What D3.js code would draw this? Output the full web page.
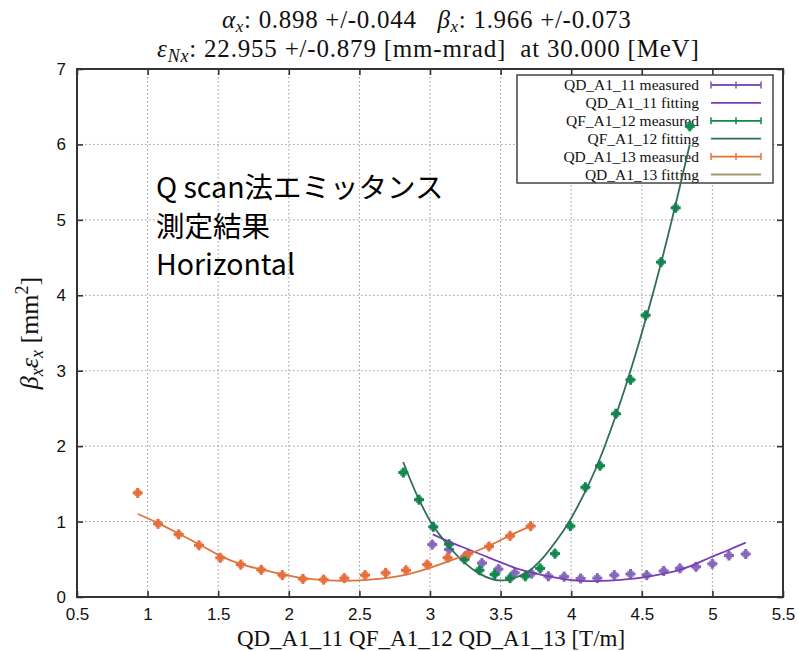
<!DOCTYPE html>
<html><head><meta charset="utf-8">
<script src="https://cdn.jsdelivr.net/npm/d3@7"></script>
<style>body{margin:0;background:#fff} svg{display:block}</style>
</head><body><svg id="c" width="798" height="651"></svg>
<script>
// ---------- data ----------
const xTicks = [0.5,1,1.5,2,2.5,3,3.5,4,4.5,5,5.5];
const xTickLabels = ["0.5","1","1.5","2","2.5","3","3.5","4","4.5","5","5.5"];
const yTicks = [0,1,2,3,4,5,6,7];
const yTickLabels = ["0","1","2","3","4","5","6","7"];

// QD_A1_11 (purple)
const qd11X = [3.016,3.135,3.25,3.368,3.484,3.60,3.72,3.838,3.95,4.067,4.185,4.305,4.42,4.535,4.655,4.77,4.884,5.0,5.117,5.236];
const qd11Y = [0.695,0.63,0.54,0.45,0.37,0.32,0.31,0.275,0.27,0.245,0.25,0.29,0.305,0.29,0.345,0.38,0.40,0.44,0.55,0.57];
const qd11FitX = [3.02,3.14,3.26,3.38,3.5,3.61,3.73,3.85,3.96,4.07,4.16,4.3,4.42,4.51,4.63,4.75,4.87,4.98,5.11,5.236];
const qd11FitY = [0.83,0.73,0.64,0.55,0.46,0.38,0.32,0.27,0.235,0.215,0.21,0.22,0.24,0.26,0.30,0.35,0.43,0.52,0.62,0.72];

// QF_A1_12 (green)
const qf12X = [2.811,2.922,3.023,3.135,3.245,3.35,3.458,3.567,3.675,3.78,3.885,3.994,4.10,4.204,4.317,4.42,4.527,4.636,4.74,4.84];
const qf12Y = [1.65,1.29,0.93,0.70,0.50,0.355,0.30,0.25,0.275,0.38,0.575,0.94,1.455,1.74,2.43,2.88,3.735,4.44,5.16,6.24];
const qf12FitX = [2.81,2.92,3.02,3.13,3.23,3.35,3.45,3.52,3.58,3.69,3.80,3.90,3.97,4.1,4.2,4.3,4.4,4.5,4.6,4.7,4.84];
const qf12FitY = [1.79,1.30,0.95,0.68,0.48,0.31,0.23,0.22,0.24,0.33,0.52,0.76,0.95,1.40,1.82,2.32,2.88,3.50,4.17,4.90,6.0];

// QD_A1_13 (orange)
const qd13X = [0.93,1.074,1.22,1.364,1.515,1.66,1.805,1.954,2.10,2.247,2.393,2.54,2.686,2.83,2.98,3.125,3.27,3.418,3.567,3.713];
const qd13Y = [1.38,0.97,0.83,0.686,0.52,0.43,0.36,0.29,0.24,0.23,0.25,0.29,0.32,0.354,0.43,0.52,0.575,0.67,0.81,0.94];
const qd13FitX = [0.93,1.074,1.22,1.364,1.515,1.66,1.805,1.954,2.10,2.247,2.40,2.50,2.64,2.79,2.90,3.02,3.14,3.26,3.43,3.57,3.713];
const qd13FitY = [1.10,0.98,0.84,0.70,0.545,0.435,0.365,0.30,0.25,0.225,0.215,0.22,0.24,0.28,0.33,0.40,0.48,0.56,0.69,0.82,0.94];

const legendLabels = ["QD_A1_11 measured","QD_A1_11 fitting","QF_A1_12 measured","QF_A1_12 fitting","QD_A1_13 measured","QD_A1_13 fitting"];
const legendColors = ["#7b55b5","#7b3fb3","#0e8a4e","#2f6e58","#e8703e","#a8996c"];
const annotationLines = ["Q scan法エミッタンス","測定結果","Horizontal"];

// ---------- drawing ----------
const svg = d3.select("#c");
const L=77, R=783, T=69, B=597;
const x = d3.scaleLinear().domain([0.5,5.5]).range([L,R]);
const y = d3.scaleLinear().domain([0,7]).range([B,T]);
const serif = "'Liberation Serif','Times New Roman',serif";
const sans = "'Liberation Sans',Arial,sans-serif";

// grid
const grid = svg.append("g").attr("stroke","#9a9a9a").attr("stroke-width",1).attr("stroke-dasharray","1.5,2.5");
grid.selectAll("line.v").data(xTicks.slice(1,-1)).join("line")
  .attr("x1",d=>x(d)).attr("x2",d=>x(d)).attr("y1",T).attr("y2",B);
grid.selectAll("line.h").data(yTicks.slice(1,-1)).join("line")
  .attr("y1",d=>y(d)).attr("y2",d=>y(d)).attr("x1",L).attr("x2",R);

// axes
function styleAxis(g){
  g.select(".domain").remove();
  g.selectAll(".tick line").attr("stroke","#333").attr("stroke-width",1.6);
  g.selectAll("text").attr("font-family",sans).attr("font-size",17).attr("fill","#111");
}
svg.append("g").attr("transform",`translate(0,${B})`)
  .call(d3.axisBottom(x).tickValues(xTicks).tickFormat((d,i)=>xTickLabels[i]).tickSize(-6).tickPadding(11))
  .call(styleAxis);
svg.append("g").attr("transform",`translate(${L},0)`)
  .call(d3.axisLeft(y).tickValues(yTicks).tickFormat((d,i)=>yTickLabels[i]).tickSize(-6).tickPadding(11))
  .call(styleAxis);
svg.append("g").attr("transform",`translate(0,${T})`)
  .call(d3.axisTop(x).tickValues(xTicks).tickFormat("").tickSize(-6))
  .call(styleAxis);
svg.append("g").attr("transform",`translate(${R},0)`)
  .call(d3.axisRight(y).tickValues(yTicks).tickFormat("").tickSize(-6))
  .call(styleAxis);
svg.append("rect").attr("x",L).attr("y",T).attr("width",R-L).attr("height",B-T)
  .attr("fill","none").attr("stroke","#333").attr("stroke-width",2);

// legend
const lg = svg.append("g");
const lx0=517, lx1=773, ly0=75, ly1=183;
lg.append("rect").attr("x",lx0).attr("y",ly0).attr("width",lx1-lx0).attr("height",ly1-ly0)
  .attr("fill","#fff").attr("stroke","#444").attr("stroke-width",1.5);
legendLabels.forEach((lab,i)=>{
  const cy = 85 + i*17.9;
  lg.append("text").attr("x",699).attr("y",cy+5).attr("text-anchor","end")
    .attr("font-family",serif).attr("font-size",15.5).attr("fill","#111").text(lab);
  lg.append("line").attr("x1",711).attr("x2",761).attr("y1",cy).attr("y2",cy)
    .attr("stroke",legendColors[i]).attr("stroke-width",1.8);
  if(i%2===0){
    [711,736,761].forEach(px=>lg.append("line").attr("x1",px).attr("x2",px).attr("y1",cy-3.5).attr("y2",cy+3.5)
      .attr("stroke",legendColors[i]).attr("stroke-width",1.5));
  }
});

// annotation
const ann = svg.append("g");
annotationLines.forEach((t,i)=>{
  ann.append("text").attr("x",156).attr("y",198+i*38.5)
    .attr("font-family","'Noto Sans CJK JP','Noto Sans',sans-serif").attr("font-size",28.5).attr("fill","#000").text(t);
});

// fits
const line = d3.line().x(d=>x(d[0])).y(d=>y(d[1])).curve(d3.curveCatmullRom.alpha(0.5));
const fits = [
  [qd11FitX,qd11FitY,"#7b3fb3"],
  [qf12FitX,qf12FitY,"#2f6e58"],
  [qd13FitX,qd13FitY,"#e0733c"]
];
// measured
const meas = [
  [qd11X,qd11Y,"#8466bb"],
  [qf12X,qf12Y,"#0e8a4e"],
  [qd13X,qd13Y,"#e66e3c"]
];
function drawMeas(xs,ys,c){
  const g = svg.append("g").attr("fill",c);
  xs.forEach((xv,i)=>{
    const px=x(xv), py=y(ys[i]);
    g.append("rect").attr("x",px-5).attr("y",py-1.5).attr("width",10).attr("height",3);
    g.append("rect").attr("x",px-1.5).attr("y",py-5).attr("width",3).attr("height",10);
    g.append("rect").attr("x",px-3.2).attr("y",py-3.2).attr("width",6.4).attr("height",6.4).attr("opacity",0.8);
  });
}
meas.forEach(m=>drawMeas(...m));
fits.forEach(([xs,ys,c])=>{
  svg.append("path").datum(xs.map((v,i)=>[v,ys[i]])).attr("d",line)
    .attr("fill","none").attr("stroke",c).attr("stroke-width",1.8);
});

// title
const t1 = svg.append("text").attr("x",222).attr("y",28).attr("font-family",serif).attr("font-size",25)
  .attr("letter-spacing",0.7).attr("fill","#111").style("white-space","pre");
t1.append("tspan").attr("font-style","italic").text("α");
t1.append("tspan").attr("font-style","italic").attr("font-size",17).attr("dy",4).text("x");
t1.append("tspan").attr("dy",-4).text(": 0.898 +/-0.044   ");
t1.append("tspan").attr("font-style","italic").text("β");
t1.append("tspan").attr("font-style","italic").attr("font-size",17).attr("dy",4).text("x");
t1.append("tspan").attr("dy",-4).text(": 1.966 +/-0.073");

const t2 = svg.append("text").attr("x",157).attr("y",57).attr("font-family",serif).attr("font-size",25)
  .attr("letter-spacing",0.8).attr("fill","#111").style("white-space","pre");
t2.append("tspan").attr("font-style","italic").text("ε");
t2.append("tspan").attr("font-style","italic").attr("font-size",18).attr("dy",5).text("Nx");
t2.append("tspan").attr("dy",-5).text(": 22.955 +/-0.879 [mm-mrad]  at 30.000 [MeV]");

// axis labels
svg.append("text").attr("x",431).attr("y",646).attr("text-anchor","middle")
  .attr("font-family",serif).attr("font-size",23).attr("fill","#111").text("QD_A1_11 QF_A1_12 QD_A1_13 [T/m]");

const yl = svg.append("text").attr("transform","translate(38,333) rotate(-90)").attr("text-anchor","middle")
  .attr("font-family",serif).attr("font-size",26).attr("fill","#111").style("white-space","pre");
yl.append("tspan").attr("font-style","italic").text("β");
yl.append("tspan").attr("font-style","italic").attr("font-size",18).attr("dy",5).text("x");
yl.append("tspan").attr("font-style","italic").attr("dy",-5).text("ε");
yl.append("tspan").attr("font-style","italic").attr("font-size",18).attr("dy",5).text("x");
yl.append("tspan").attr("dy",-5).text(" [mm");
yl.append("tspan").attr("font-size",18).attr("dy",-10).text("2");
yl.append("tspan").attr("dy",10).text("]");
</script></body></html>
